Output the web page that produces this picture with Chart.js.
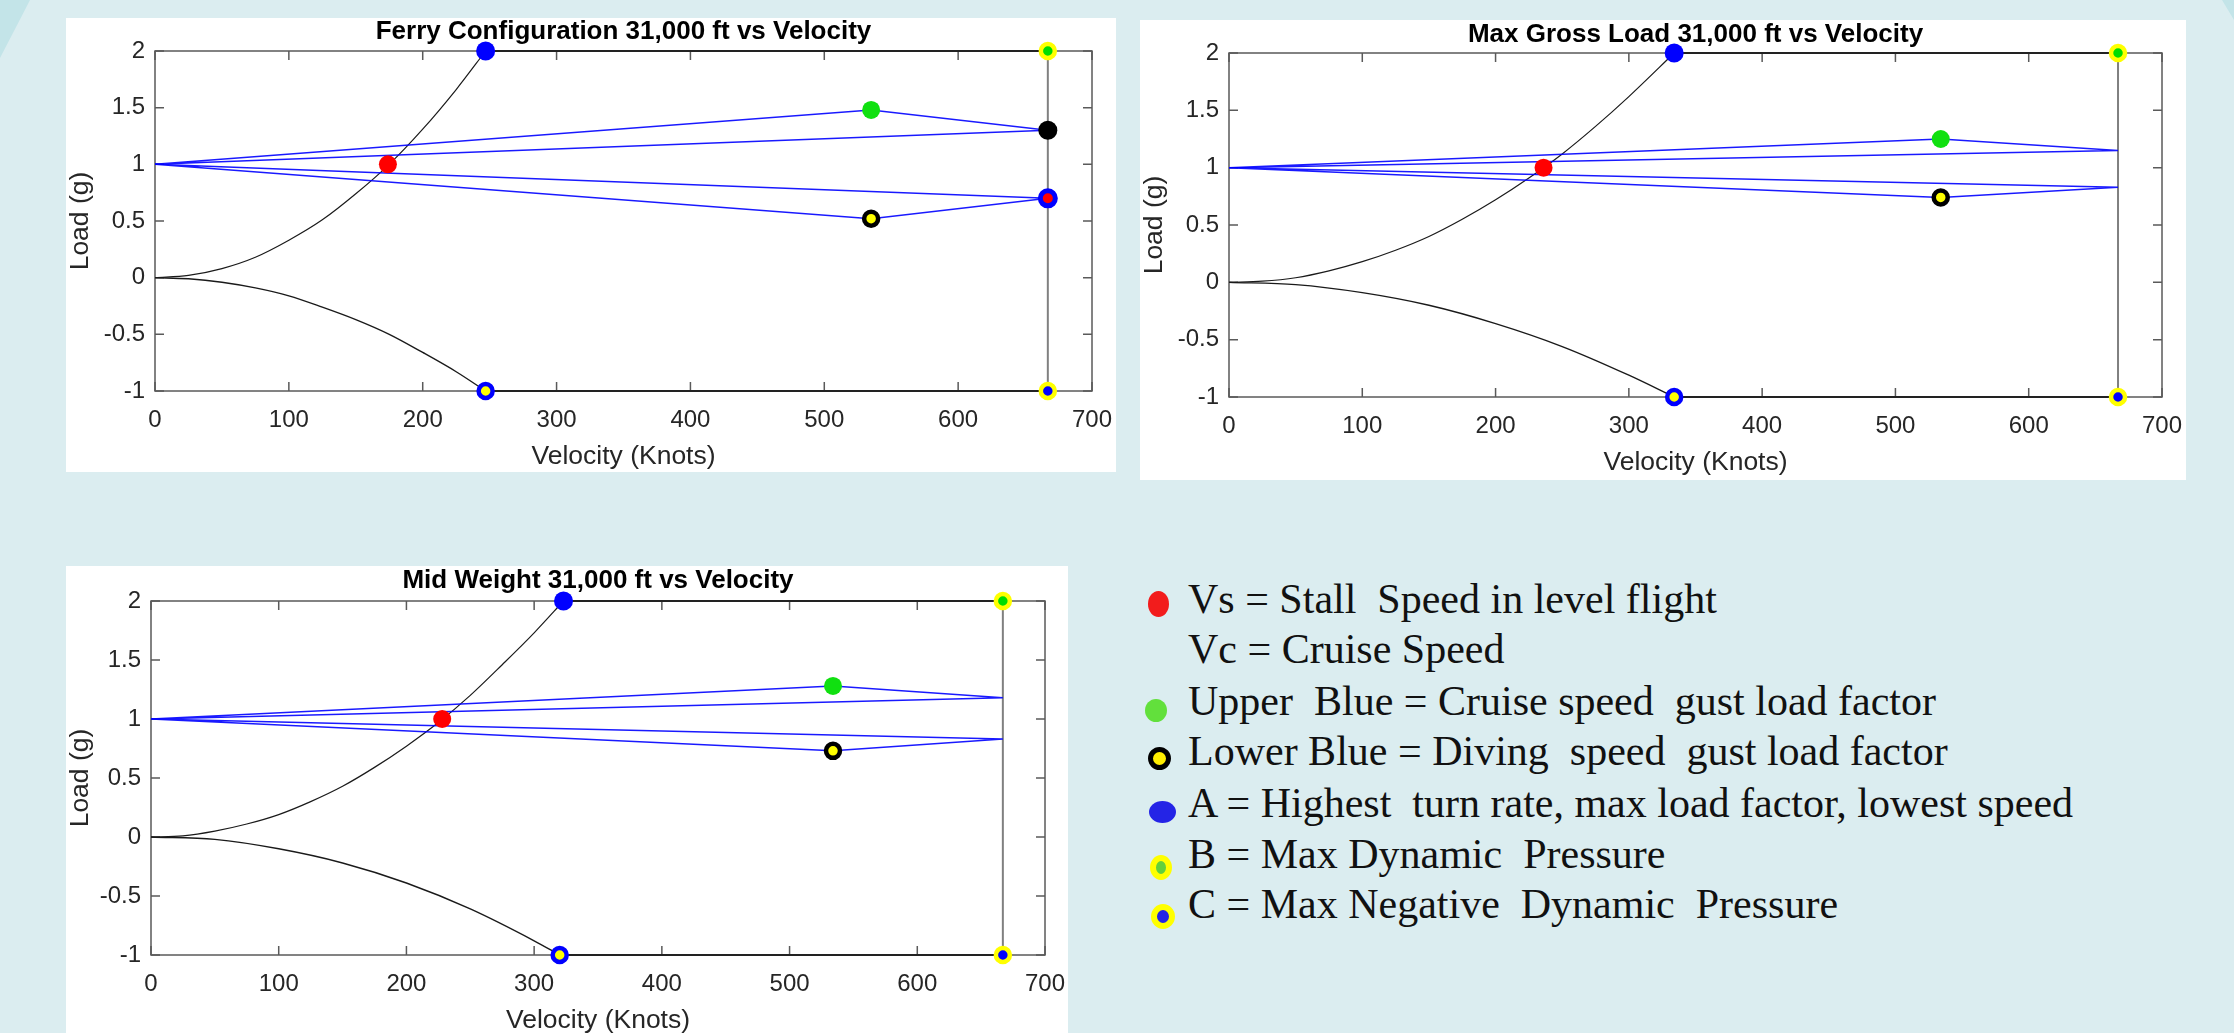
<!DOCTYPE html>
<html lang="en">
<head>
<meta charset="UTF-8">
<title>V-n Diagrams 31,000 ft</title>
<script src="https://cdn.jsdelivr.net/npm/chart.js"></script>
<style>
  html, body { margin: 0; padding: 0; }
  body { width: 2234px; height: 1033px; overflow: hidden; position: relative; background: #dbedf0; }
  .deco { position: absolute; background: #c3e4e8; }
  .panel { position: absolute; background: #fff; overflow: hidden; }
  .panel canvas { display: block; }
  .legend-line { position: absolute; left: 1188px; font-family: 'Liberation Serif', 'Times New Roman', serif;
                 font-size: 42px; line-height: 42px; color: #111; white-space: pre; }
  .dot { position: absolute; border-radius: 50%; box-sizing: border-box; }
</style>
</head>
<body>
<div class="deco" style="left:0;top:0;width:30px;height:58px;clip-path:polygon(0 0,100% 0,70% 30%,35% 65%,0 100%);"></div>
<div class="deco" style="left:2222px;top:0;width:12px;height:20px;clip-path:polygon(0 0,100% 0,100% 100%);"></div>

<div class="panel" style="left:66px;top:18px;width:1050px;height:454px;"><canvas id="ferryChart"></canvas></div>
<div class="panel" style="left:1140px;top:20px;width:1046px;height:460px;"><canvas id="grossChart"></canvas></div>
<div class="panel" style="left:66px;top:566px;width:1002px;height:467px;"><canvas id="midChart"></canvas></div>

<div id="legend"></div>

<script>
// ---- axes ----
const xTickValues = [0, 100, 200, 300, 400, 500, 600, 700];
const yTickValues = [-1, -0.5, 0, 0.5, 1, 1.5, 2];

// ---- Ferry Configuration ----
const ferryUpperV = [0, 25, 50, 75, 100, 125, 150, 175, 200, 225, 247];
const ferryUpperN = [0, 0.02, 0.08, 0.18, 0.33, 0.51, 0.74, 1.0, 1.31, 1.66, 2.0];
const ferryLowerV = [0, 25, 50, 75, 100, 125, 150, 175, 200, 225, 247];
const ferryLowerN = [0, -0.01, -0.04, -0.09, -0.16, -0.26, -0.37, -0.5, -0.66, -0.83, -1.0];
const ferryGustUpV = [0, 535, 667, 0];
const ferryGustUpN = [1, 1.48, 1.30, 1];
const ferryGustLowV = [0, 535, 667, 0];
const ferryGustLowN = [1, 0.52, 0.70, 1];
const ferryTopV = [247, 667];
const ferryBottomV = [247, 667];
const ferryMarkV = [174, 247, 247, 535, 535, 667, 667, 667, 667];
const ferryMarkN = [1, 2, -1, 1.48, 0.52, 2, -1, 1.30, 0.70];
const ferryMarkKind = ['vs', 'A', 'Alow', 'gustUp', 'gustLow', 'B', 'C', 'dUp', 'dLow'];

// ---- Max Gross Load ----
const grossUpperV = [0, 25, 50, 75, 100, 125, 150, 175, 200, 225, 250, 275, 300, 334];
const grossUpperN = [0, 0.01, 0.04, 0.10, 0.18, 0.28, 0.40, 0.55, 0.72, 0.91, 1.12, 1.36, 1.62, 2.0];
const grossLowerV = [0, 50, 100, 150, 200, 250, 300, 334];
const grossLowerN = [0, -0.02, -0.09, -0.2, -0.36, -0.56, -0.81, -1.0];
const grossGustUpV = [0, 534, 667, 0];
const grossGustUpN = [1, 1.25, 1.15, 1];
const grossGustLowV = [0, 534, 667, 0];
const grossGustLowN = [1, 0.74, 0.83, 1];
const grossTopV = [334, 667];
const grossBottomV = [334, 667];
const grossMarkV = [236, 334, 334, 534, 534, 667, 667];
const grossMarkN = [1, 2, -1, 1.25, 0.74, 2, -1];
const grossMarkKind = ['vs', 'A', 'Alow', 'gustUp', 'gustLow', 'B', 'C'];

// ---- Mid Weight ----
const midUpperV = [0, 25, 50, 75, 100, 125, 150, 175, 200, 225, 250, 275, 300, 323];
const midUpperN = [0, 0.01, 0.05, 0.11, 0.19, 0.30, 0.43, 0.59, 0.77, 0.97, 1.20, 1.46, 1.73, 2.0];
const midLowerV = [0, 50, 100, 150, 200, 250, 300, 320];
const midLowerN = [0, -0.02, -0.10, -0.22, -0.39, -0.61, -0.88, -1.0];
const midGustUpV = [0, 534, 667, 0];
const midGustUpN = [1, 1.28, 1.18, 1];
const midGustLowV = [0, 534, 667, 0];
const midGustLowN = [1, 0.73, 0.83, 1];
const midTopV = [323, 667];
const midBottomV = [320, 667];
const midMarkV = [228, 323, 320, 534, 534, 667, 667];
const midMarkN = [1, 2, -1, 1.28, 0.73, 2, -1];
const midMarkKind = ['vs', 'A', 'Alow', 'gustUp', 'gustLow', 'B', 'C'];

// ---- legend ----
const legendLabels = [
    'Vs = Stall  Speed in level flight',
    'Vc = Cruise Speed',
    'Upper  Blue = Cruise speed  gust load factor',
    'Lower Blue = Diving  speed  gust load factor',
    'A = Highest  turn rate, max load factor, lowest speed',
    'B = Max Dynamic  Pressure',
    'C = Max Negative  Dynamic  Pressure'
];
const legendKinds = ['vs', null, 'gustUp', 'gustLow', 'A', 'B', 'C'];

const markerStyle = {
    vs:      { fill: '#ff0000', border: '#ff0000', bw: 0,   r: 9 },
    A:       { fill: '#0000ff', border: '#0000ff', bw: 0,   r: 9.5 },
    Alow:    { fill: '#ffff00', border: '#0000ff', bw: 4.5, r: 7 },
    gustUp:  { fill: '#10e010', border: '#10e010', bw: 0,   r: 9 },
    gustLow: { fill: '#ffff00', border: '#000000', bw: 4.5, r: 7 },
    B:       { fill: '#00dd00', border: '#ffff00', bw: 4.5, r: 7 },
    C:       { fill: '#0000ff', border: '#ffff00', bw: 4.5, r: 7 },
    dUp:     { fill: '#000000', border: '#000000', bw: 0,   r: 9.5 },
    dLow:    { fill: '#ff0000', border: '#0000ff', bw: 5,   r: 7.5 }
};

const SANS = "'Liberation Sans', Arial, sans-serif";
const pts = (vs, ns) => vs.map((v, i) => ({ x: v, y: ns[i] }));

// MATLAB-like box with inward ticks on all four sides
const matlabFrame = {
    id: 'matlabFrame',
    beforeDatasetsDraw(chart) {
        const { ctx, chartArea: a, scales: { x, y } } = chart;
        ctx.save();
        ctx.strokeStyle = '#5a5a5a';
        ctx.lineWidth = 1.5;
        ctx.strokeRect(a.left, a.top, a.right - a.left, a.bottom - a.top);
        ctx.beginPath();
        x.ticks.forEach(t => {
            const px = x.getPixelForValue(t.value);
            ctx.moveTo(px, a.bottom); ctx.lineTo(px, a.bottom - 9);
            ctx.moveTo(px, a.top); ctx.lineTo(px, a.top + 9);
        });
        y.ticks.forEach(t => {
            const py = y.getPixelForValue(t.value);
            ctx.moveTo(a.left, py); ctx.lineTo(a.left + 9, py);
            ctx.moveTo(a.right, py); ctx.lineTo(a.right - 9, py);
        });
        ctx.stroke();
        ctx.restore();
    }
};

function createPanel(id, title, layout, d) {
    const kinds = d.markKind;
    const lineSet = (data, color, width, smooth) => ({
        type: 'scatter', data: data, showLine: true, pointRadius: 0, clip: false,
        borderColor: color, borderWidth: width,
        cubicInterpolationMode: smooth ? 'monotone' : 'default'
    });
    const canvas = document.getElementById(id);
    canvas.width = layout.width;
    canvas.height = layout.height;
    return new Chart(canvas.getContext('2d'), {
        type: 'scatter',
        data: {
            datasets: [
                {
                    data: pts(d.markV, d.markN),
                    showLine: false,
                    clip: false,
                    pointRadius: kinds.map(k => markerStyle[k].r),
                    pointBackgroundColor: kinds.map(k => markerStyle[k].fill),
                    pointBorderColor: kinds.map(k => markerStyle[k].border),
                    pointBorderWidth: kinds.map(k => markerStyle[k].bw)
                },
                lineSet(pts(d.gustUpV, d.gustUpN), 'rgba(0,0,255,0.9)', 1.5, false),
                lineSet(pts(d.gustLowV, d.gustLowN), 'rgba(0,0,255,0.9)', 1.5, false),
                lineSet(pts(d.upperV, d.upperN), '#1a1a1a', 1.2, true),
                lineSet(pts(d.lowerV, d.lowerN), '#1a1a1a', 1.4, true),
                lineSet(pts(d.topV, [2, 2]), '#222222', 2, false),
                lineSet(pts(d.bottomV, [-1, -1]), '#222222', 2, false),
                lineSet(pts([d.topV[1], d.bottomV[1]], [2, -1]), '#808080', 2, false)
            ]
        },
        options: {
            responsive: false,
            animation: false,
            layout: { padding: { left: 0, right: layout.padRight, top: 0, bottom: 0 } },
            plugins: {
                legend: { display: false },
                tooltip: { enabled: false },
                title: {
                    display: true,
                    text: title,
                    fullSize: false,
                    color: '#000',
                    font: { family: SANS, size: 26, weight: 'bold', lineHeight: 1.1 },
                    padding: { top: layout.titleTop, bottom: layout.titleH - 28.6 - layout.titleTop }
                }
            },
            scales: {
                x: {
                    type: 'linear', min: 0, max: 700,
                    afterBuildTicks: s => { s.ticks = xTickValues.map(v => ({ value: v })); },
                    afterFit: s => { s.height = layout.xAxisH; s.paddingLeft = 0; s.paddingRight = 0; },
                    grid: { display: false, drawTicks: false },
                    border: { display: false },
                    ticks: { color: '#262626', padding: 15, callback: v => String(v),
                             font: { family: SANS, size: 24 } },
                    title: { display: true, text: 'Velocity (Knots)', color: '#262626',
                             font: { family: SANS, size: 26.5, lineHeight: 1.1 },
                             padding: { top: 0, bottom: layout.xAxisH - 80.6 } }
                },
                y: {
                    type: 'linear', min: -1, max: 2,
                    afterBuildTicks: s => { s.ticks = yTickValues.map(v => ({ value: v })); },
                    afterFit: s => { s.width = layout.yAxisW; s.paddingTop = 0; s.paddingBottom = 0; },
                    grid: { display: false, drawTicks: false },
                    border: { display: false },
                    ticks: { color: '#262626', padding: 10, callback: v => String(v),
                             font: { family: SANS, size: 24 } },
                    title: { display: true, text: 'Load (g)', color: '#262626',
                             font: { family: SANS, size: 26.5, lineHeight: 1.1 },
                             padding: { top: 0, bottom: 0 } }
                }
            }
        },
        plugins: [matlabFrame]
    });
}

createPanel('ferryChart', 'Ferry Configuration 31,000 ft vs Velocity',
    { width: 1050, height: 454, yAxisW: 89, padRight: 24, titleH: 33, titleTop: 0, xAxisH: 81 },
    { upperV: ferryUpperV, upperN: ferryUpperN, lowerV: ferryLowerV, lowerN: ferryLowerN,
      gustUpV: ferryGustUpV, gustUpN: ferryGustUpN, gustLowV: ferryGustLowV, gustLowN: ferryGustLowN,
      topV: ferryTopV, bottomV: ferryBottomV, markV: ferryMarkV, markN: ferryMarkN, markKind: ferryMarkKind });

createPanel('grossChart', 'Max Gross Load 31,000 ft vs Velocity',
    { width: 1046, height: 460, yAxisW: 89, padRight: 24, titleH: 33, titleTop: 1, xAxisH: 83 },
    { upperV: grossUpperV, upperN: grossUpperN, lowerV: grossLowerV, lowerN: grossLowerN,
      gustUpV: grossGustUpV, gustUpN: grossGustUpN, gustLowV: grossGustLowV, gustLowN: grossGustLowN,
      topV: grossTopV, bottomV: grossBottomV, markV: grossMarkV, markN: grossMarkN, markKind: grossMarkKind });

createPanel('midChart', 'Mid Weight 31,000 ft vs Velocity',
    { width: 1002, height: 470, yAxisW: 85, padRight: 23, titleH: 35, titleTop: 1, xAxisH: 81 },
    { upperV: midUpperV, upperN: midUpperN, lowerV: midLowerV, lowerN: midLowerN,
      gustUpV: midGustUpV, gustUpN: midGustUpN, gustLowV: midGustLowV, gustLowN: midGustLowN,
      topV: midTopV, bottomV: midBottomV, markV: midMarkV, markN: midMarkN, markKind: midMarkKind });

// legend (HTML text beside the third chart)
const legendBaselines = [613, 663, 715, 765, 817, 868, 918];
const legendDots = {
    vs:      { x: 1158, y: 604, w: 21, h: 26, fill: '#f21c1c', ring: null, bw: 0 },
    gustUp:  { x: 1156, y: 710, w: 22, h: 23, fill: '#62e03c', ring: null, bw: 0 },
    gustLow: { x: 1159, y: 758, w: 23, h: 23, fill: '#ffee00', ring: '#000', bw: 5 },
    A:       { x: 1162, y: 812, w: 27, h: 22, fill: '#2424e6', ring: null, bw: 0 },
    B:       { x: 1161, y: 867, w: 22, h: 25, fill: '#62d03c', ring: '#ffff00', bw: 6 },
    C:       { x: 1163, y: 916, w: 24, h: 25, fill: '#2424e6', ring: '#ffff00', bw: 6 }
};
const legendEl = document.getElementById('legend');
legendLabels.forEach((label, i) => {
    const line = document.createElement('div');
    line.className = 'legend-line';
    line.style.top = (legendBaselines[i] - 35.2) + 'px';
    line.textContent = label;
    legendEl.appendChild(line);
    const k = legendKinds[i];
    if (k) {
        const s = legendDots[k];
        const dot = document.createElement('span');
        dot.className = 'dot';
        dot.style.left = (s.x - s.w / 2) + 'px';
        dot.style.top = (s.y - s.h / 2) + 'px';
        dot.style.width = s.w + 'px';
        dot.style.height = s.h + 'px';
        dot.style.background = s.fill;
        if (s.ring) dot.style.border = s.bw + 'px solid ' + s.ring;
        legendEl.appendChild(dot);
    }
});
</script>
</body>
</html>
